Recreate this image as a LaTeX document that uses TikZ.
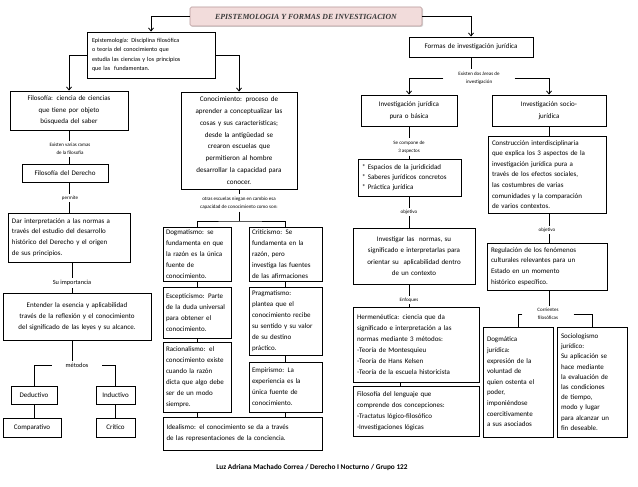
\documentclass[tikz,border=0pt]{standalone}
\usepackage{fontspec}
\setmainfont{Carlito}
\newfontfamily\titlefont{Liberation Serif}
\usetikzlibrary{arrows.meta,shadows}
\definecolor{titlefill}{HTML}{F2DCDB}
\definecolor{titledraw}{HTML}{B89A9A}
\definecolor{titletext}{HTML}{3A3A3A}
\begin{document}
\begin{tikzpicture}[x=1pt,y=-1pt,
  box/.style={draw=black, line width=0.9pt, fill=white, inner xsep=4pt, inner ysep=0pt,
    font=\fontsize{7}{11}\selectfont},
  lbl/.style={inner xsep=1pt, inner ysep=2pt, align=center, font=\fontsize{5}{8.5}\selectfont},
  conn/.style={line width=0.8pt},
  arr/.style={conn, -{Straight Barb[length=3pt,width=5pt]}},
  titlebox/.style={draw=titledraw, fill=titlefill, line width=0.6pt, rounded corners=1.5pt,
    drop shadow={shadow xshift=1pt, shadow yshift=-1pt, fill=black!30},
    font=\titlefont\bfseries\itshape\fontsize{7.8}{9}\selectfont, text=titletext}
]
\fill[white] (0,0) rectangle (638,487);
\useasboundingbox (0,0) rectangle (638,487);

% title
\node[titlebox, minimum width=232pt, minimum height=19pt] (tit) at (306,16.5) {EPISTEMOLOGIA Y FORMAS DE INVESTIGACION};

% left branch
\node[box, inner xsep=5pt, text width=118pt, minimum height=46pt, align=left, font=\fontsize{6.1}{9.5}\selectfont] (epi) at (151,55)
 {Epistemología: Disciplina filosófica\\o teoría del conocimiento que\\estudia las ciencias y los principios\\que las\ \ fundamentan.};
\node[box, text width=110pt, minimum height=39pt, align=center, font=\fontsize{7}{11.5}\selectfont] (fil) at (69,110.5)
 {Filosofía: ciencia de ciencias\\que tiene por objeto\\búsqueda del saber};
\node[lbl] (ramas) at (70,149) {Existen varias ramas\\de la filosofía};
\node[box, text width=78pt, minimum height=18pt, align=center] (filder) at (65,173) {Filosofía del Derecho};
\node[lbl] (permite) at (70,198) {permite};
\node[box, text width=114pt, minimum height=49pt, align=left, font=\fontsize{7}{10.8}\selectfont] (dar) at (69,237.5)
 {Dar interpretación a las normas a\\través del estudio del desarrollo\\histórico del Derecho y el origen\\de sus principios.};
\node[lbl, font=\fontsize{6.3}{8}\selectfont] (imp) at (72,283) {Su importancia};
\node[box, text width=140pt, minimum height=47pt, align=center] (ent) at (77,316.5)
 {Entender la esencia y aplicabilidad\\través de la reflexión y el conocimiento\\del significado de las leyes y su alcance.};
\node[lbl, font=\fontsize{6.3}{8}\selectfont, minimum width=50pt, inner xsep=0pt] (met) at (77,365) {métodos};
\node[box, text width=38pt, minimum height=18pt, align=center] (ded) at (34,395) {Deductivo};
\node[box, text width=31pt, minimum height=18pt, align=center] (ind) at (115.5,395) {Inductivo};
\node[box, text width=50pt, minimum height=19pt, align=center] (com) at (32,427.5) {Comparativo};
\node[box, text width=31pt, minimum height=19pt, align=center] (crit) at (115.5,427.5) {Crítico};

% middle branch
\node[box, text width=108pt, minimum height=97pt, align=center, font=\fontsize{7.1}{11.8}\selectfont] (con) at (239,140.5)
 {Conocimiento: proceso de\\aprender a conceptualizar las\\cosas y sus características;\\desde la antigüedad se\\crearon escuelas que\\permitieron al hombre\\desarrollar la capacidad para\\conocer.};
\node[lbl] (escl) at (239,203) {otras escuelas niegan en cambio esa\\capacidad de conocimiento como son:};
\coordinate (brk) at (239,221);
\tikzset{lcol/.style={box, inner xsep=2.5pt, text width=63pt, align=left}}
\node[lcol, minimum height=54pt] (dog) at (197.5,254)
 {Dogmatismo: se\\fundamenta en que\\la razón es la única\\fuente de\\conocimiento.};
\node[box, inner xsep=3pt, text width=67pt, minimum height=54pt, align=left] (cri) at (285.5,254)
 {Criticismo: Se\\fundamenta en la\\razón, pero\\investiga las fuentes\\de las afirmaciones};
\node[lcol, minimum height=51pt] (esc) at (197.5,312.5)
 {Escepticismo: Parte\\de la duda universal\\para obtener el\\conocimiento.};
\node[box, inner xsep=3pt, text width=67pt, minimum height=68pt, align=left] (pra) at (285.5,321)
 {Pragmatismo:\\plantea que el\\conocimiento recibe\\su sentido y su valor\\de su destino\\práctico.};
\node[lcol, minimum height=70pt] (rac) at (197.5,377)
 {Racionalismo: el\\conocimiento existe\\cuando la razón\\dicta que algo debe\\ser de un modo\\siempre.};
\node[box, inner xsep=3pt, text width=67pt, minimum height=50pt, align=left] (emp) at (285.5,387)
 {Empirismo: La\\experiencia es la\\única fuente de\\conocimiento.};
\node[box, inner xsep=3pt, text width=153pt, minimum height=33pt, align=left] (ide) at (243,433.5)
 {Idealismo: el conocimiento se da a través\\de las representaciones de la conciencia.};

% right branch
\node[box, text width=116pt, minimum height=20pt, align=center] (for) at (471,47) {Formas de investigación jurídica};
\node[lbl, minimum width=71pt, inner xsep=0pt] (areas) at (479,78) {Existen dos áreas de\\investigación};
\node[box, text width=88pt, minimum height=31pt, align=center, font=\fontsize{7}{12}\selectfont] (jp) at (409,110.5)
 {Investigación jurídica\\pura o básica};
\node[box, text width=106pt, minimum height=31pt, align=center, font=\fontsize{7}{12}\selectfont] (sj) at (549,110.5)
 {Investigación socio-\\jurídica};
\node[lbl] (comp) at (409,147) {Se compone de\\3 aspectos};
\node[box, text width=95pt, minimum height=37pt, align=left, font=\fontsize{7}{10}\selectfont] (esp) at (409.5,177.5)
 {{*} Espacios de la juridicidad\\{*} Saberes jurídicos concretos\\{*} Práctica jurídica};
\node[lbl] (obja) at (409,212) {objetivo};
\node[box, text width=114pt, minimum height=56pt, align=center, font=\fontsize{7}{11.5}\selectfont] (inv) at (414,256)
 {Investigar las\ \ normas, su\\significado e interpretarlas para\\orientar su\ \ aplicabilidad dentro\\de un contexto};
\node[lbl] (enf) at (409,300) {Enfoques};
\node[box, text width=118pt, minimum height=75pt, align=left] (her) at (416,344.5)
 {Hermenéutica: ciencia que da\\significado e interpretación a las\\normas mediante 3 métodos:\\-Teoría de Montesquieu\\-Teoría de Hans Kelsen\\-Teoría de la escuela historicista};
\node[box, text width=118pt, minimum height=50pt, align=left] (lng) at (416,411)
 {Filosofía del lenguaje que\\comprende dos concepciones:\\-Tractatus lógico-filosófico\\-Investigaciones lógicas};
\node[box, text width=110pt, minimum height=77pt, align=left, font=\fontsize{7}{10.6}\selectfont] (cons) at (547,174.5)
 {Construcción interdisciplinaria\\que explica los 3 aspectos de la\\investigación jurídica pura a\\través de los efectos sociales,\\las costumbres de varias\\comunidades y la comparación\\de varios contextos.};
\node[lbl] (objb) at (547,230) {objetivo};
\node[box, text width=112pt, minimum height=47pt, align=left, font=\fontsize{7}{10.8}\selectfont] (reg) at (547,266.5)
 {Regulación de los fenómenos\\culturales relevantes para un\\Estado en un momento\\histórico específico.};
\node[lbl, minimum width=51pt, inner xsep=0pt] (cor) at (548,314) {Corrientes\\filosóficas};
\node[box, text width=62pt, minimum height=110pt, align=left, font=\fontsize{7}{10.6}\selectfont] (dgj) at (518,382)
 {Dogmática\\jurídica:\\expresión de la\\voluntad de\\quien ostenta el\\poder,\\imponiéndose\\coercitivamente\\a sus asociados\\[6pt]};
\node[box, text width=62pt, minimum height=110pt, align=left, font=\fontsize{7}{10.2}\selectfont] (soc) at (592,382)
 {Sociologismo\\jurídico:\\Su aplicación se\\hace mediante\\la evaluación de\\las condiciones\\de tiempo,\\modo y lugar\\para alcanzar un\\fin deseable.};

\node[font=\bfseries\fontsize{7.3}{8}\selectfont] (aut) at (312,468) {Luz Adriana Machado Correa / Derecho I Nocturno / Grupo 122};

% connectors
\draw[arr] (tit.west) -| (epi.north);
\draw[arr] (tit.east) -| (for.north);
\draw[arr] (epi.west) -| (fil.north);
\draw[arr] (epi.east) -| (con.north);
\draw[conn] (fil.south) -- (fil.south |- ramas.north);
\draw[conn] (fil.south |- ramas.south) -- (fil.south |- filder.north);
\draw[conn] (fil.south |- filder.south) -- (fil.south |- permite.north);
\draw[conn] (fil.south |- permite.south) -- (fil.south |- dar.north);
\draw[conn] (imp.north |- dar.south) -- (imp.north);
\draw[conn] (imp.south) -- (imp.south |- ent.north);
\draw[conn] (imp.south |- ent.south) -- (imp.south |- met.north);
\draw[conn] (met.west) -| (ded.north);
\draw[conn] (met.east) -| (ind.north);
\draw[conn] (ded.south) -- (ded.south |- com.north);
\draw[conn] (ind.south) -- (ind.south |- crit.north);

\draw[conn] (con.south) -- (con.south |- escl.north);
\draw[conn] (con.south |- escl.south) -- (brk);
\draw[conn] (dog.north) |- (brk) -| (cri.north);
\draw[conn] (dog.south) -- (esc.north);
\draw[conn] (esc.south) -- (rac.north);
\draw[conn] (rac.south) -- (rac.south |- ide.north);
\draw[conn] (cri.south) -- (pra.north);
\draw[conn] (pra.south) -- (emp.north);
\draw[conn] (emp.south) -- (emp.south |- ide.north);

\draw[conn] (for.south) -- (for.south |- areas.north);
\draw[arr] (areas.west) -| (jp.north);
\draw[arr] (areas.east) -| (sj.north);
\draw[conn] (jp.south) -- (jp.south |- comp.north);
\draw[conn] (jp.south |- comp.south) -- (jp.south |- esp.north);
\draw[conn] (jp.south |- esp.south) -- (jp.south |- obja.north);
\draw[conn] (jp.south |- obja.south) -- (jp.south |- inv.north);
\draw[conn] (jp.south |- inv.south) -- (jp.south |- enf.north);
\draw[conn] (jp.south |- enf.south) -- (jp.south |- her.north);
\draw[conn] ([xshift=-16pt]her.south) -- ([xshift=-16pt]lng.north);
\draw[conn] (sj.south) -- (sj.south |- cons.north);
\draw[conn] (sj.south |- cons.south) -- (sj.south |- objb.north);
\draw[conn] (sj.south |- objb.south) -- (sj.south |- reg.north);
\draw[conn] (sj.south |- reg.south) -- (sj.south |- cor.north);
\draw[conn] (cor.west) -| (dgj.north);
\draw[conn] (cor.east) -| (soc.north);
\end{tikzpicture}
\end{document}
